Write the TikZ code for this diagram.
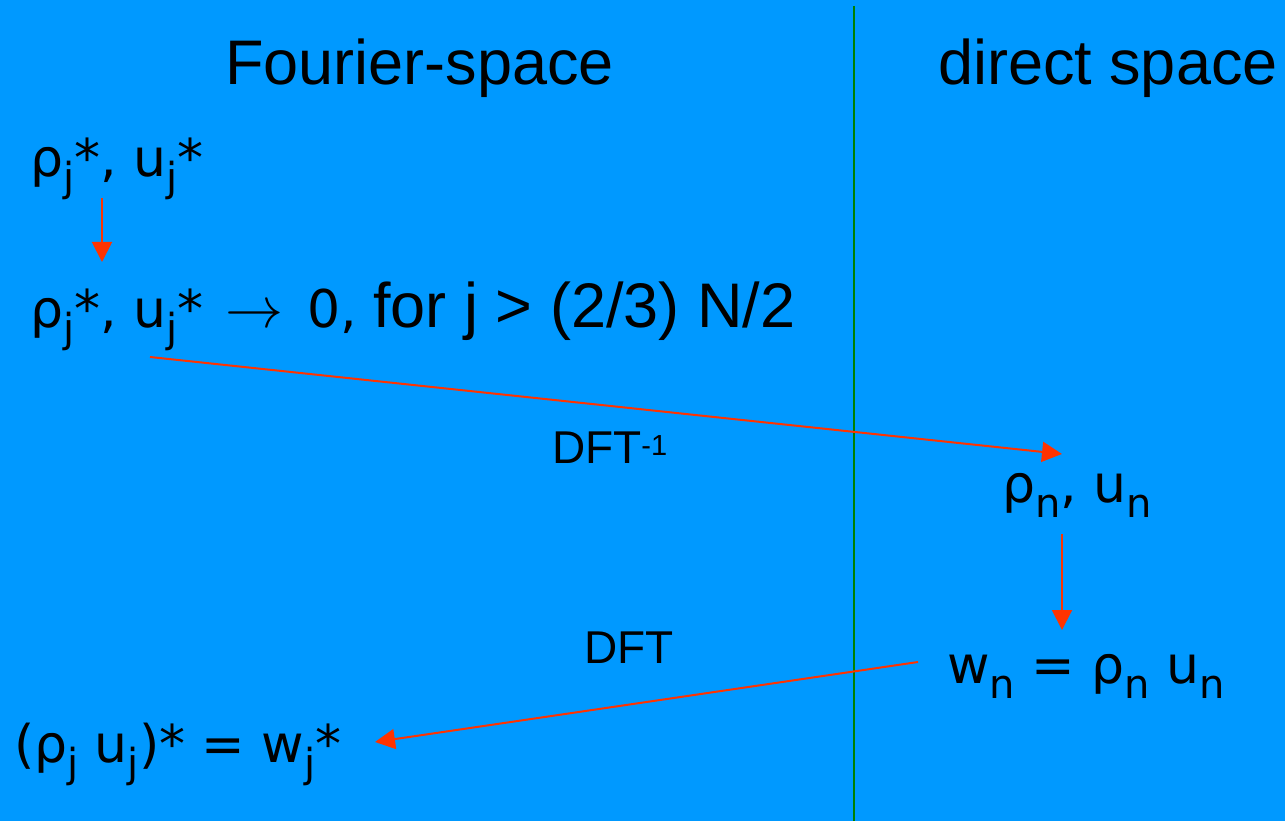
\documentclass[tikz,border=0pt]{standalone}
\usepackage{graphicx}
\usepackage{fontspec}
\setmainfont{Liberation Sans}
\newfontfamily\dv{DejaVu Sans}
\usetikzlibrary{arrows.meta}
\definecolor{bgblue}{RGB}{0,153,255}
\definecolor{arrred}{RGB}{255,51,0}
\definecolor{divgreen}{RGB}{0,128,0}
\newcommand\sbj[1]{\raisebox{-15pt}{\fontsize{40}{40}\selectfont #1}}
\newcommand\lsf[1]{{\rmfamily\fontsize{63}{63}\selectfont #1}}
\newcommand\bigarrow{\hspace{6pt}\scalebox{5.8}{\fontsize{10}{12}\selectfont$\rightarrow$}\hspace{7pt}}
\tikzset{
  lbl/.style={anchor=base west, inner sep=0pt, outer sep=0pt, text=black},
  big/.style={font=\fontsize{63}{63}\selectfont},
  fm/.style={font=\fontsize{52}{52}\selectfont\dv},
  small/.style={font=\fontsize{46}{46}\selectfont},
  conn/.style={draw=arrred, line width=2pt, -{Triangle[length=20pt,width=20pt]}},
  divider/.style={draw=divgreen, line width=2pt}
}
\begin{document}
\begin{tikzpicture}[x=1pt,y=-1pt]
\fill[bgblue] (0,0) rectangle (1285,821);
\useasboundingbox (0,0) rectangle (1285,821);
\coordinate (gtop) at (854,6);
\coordinate (gbot) at (854,821);
\draw[divider] (gtop) -- (gbot);
\node[lbl,big] (fs) at (225,85) {Fourier-space};
\node[lbl,big] (ds) at (938,85) {direct space};
\node[lbl,fm] (k1) at (30,177) {ρ\sbj{j}*, u\sbj{j}*};
\node[lbl,fm] (k2) at (30,327) {ρ\sbj{j}*, u\sbj{j}* \bigarrow{} 0, \lsf{for j > (2/3) N/2}};
\node[lbl,small] (dfti) at (552,463) {DFT\raisebox{8pt}{\fontsize{29}{29}\selectfont -1}};
\node[lbl,fm] (rn) at (1002,502) {ρ\sbj{n}, u\sbj{n}};
\node[lbl,fm] (wn) at (947,683) {w\sbj{n} = ρ\sbj{n} u\sbj{n}};
\node[lbl,small] (dft) at (584,663) {DFT};
\node[lbl,fm] (res) at (14,762) {(ρ\sbj{j} u\sbj{j})* = w\sbj{j}*};
\coordinate (a1s) at (102,198);
\coordinate (a1e) at (102,262);
\coordinate (a2s) at (150,357);
\coordinate (a2e) at (1062,454);
\coordinate (a3s) at (1062,534);
\coordinate (a3e) at (1062,630);
\coordinate (a4s) at (918,662);
\coordinate (a4e) at (375,742);
\draw[conn] (a1s) -- (a1e);
\draw[conn] (a2s) -- (a2e);
\draw[conn] (a3s) -- (a3e);
\draw[conn] (a4s) -- (a4e);
\end{tikzpicture}
\end{document}
